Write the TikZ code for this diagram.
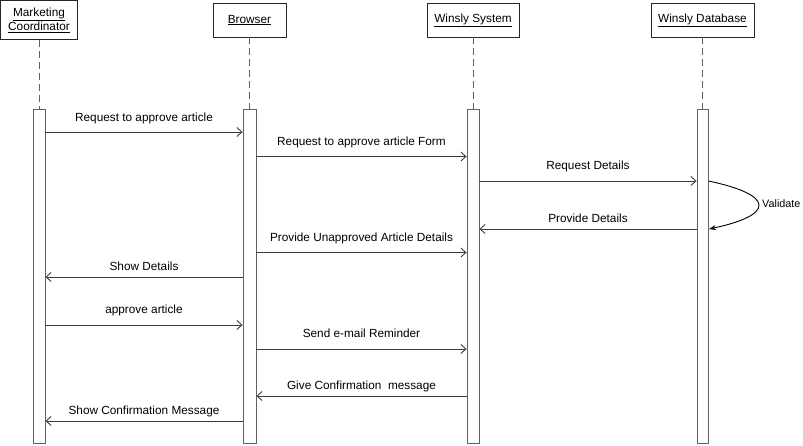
\documentclass[tikz,border=0pt]{standalone}
\usepackage{fontspec}
\setmainfont{Liberation Sans}
\usetikzlibrary{arrows.meta,calc}
\definecolor{ln}{HTML}{3A3A3A}
\tikzset{
  hdr/.style={draw=black!85,line width=0.8pt,fill=white,inner sep=0pt,align=center,font=\fontsize{11.8}{14}\selectfont},
  bar/.style={draw=ln!80,line width=0.9pt,fill=white,minimum height=334pt,inner sep=0pt},
  life/.style={draw=ln!80,line width=0.9pt,dash pattern=on 7pt off 4pt},
  msg/.style={draw=ln,line width=0.9pt,-{Straight Barb[length=5pt,width=9pt]}},
  lbl/.style={font=\fontsize{11.8}{14}\selectfont,anchor=base,inner sep=0pt},
}
\begin{document}
\begin{tikzpicture}[x=1pt,y=-1pt]
\useasboundingbox (0,0) rectangle (803,445);
% headers
\node[hdr,minimum width=77pt,minimum height=39pt] (mc) at (39,20) {\underline{Marketing}\\\underline{Coordinator}};
\node[hdr,minimum width=73pt,minimum height=34pt] (br) at (249.5,20) {\underline{Browser}};
\node[hdr,minimum width=92pt,minimum height=34pt] (ws) at (473,20) {\underline{Winsly System}};
\node[hdr,minimum width=103pt,minimum height=34pt] (wd) at (702.5,20) {\underline{Winsly Database}};
% activation bars
\node[bar,minimum width=12pt] (mcA) at (39,276) {};
\node[bar,minimum width=13pt] (brA) at (249.5,276) {};
\node[bar,minimum width=12pt] (wsA) at (473,276) {};
\node[bar,minimum width=11pt] (wdA) at (702.5,276) {};
% lifelines
\draw[life] (mc.south) -- (mcA.north);
\draw[life] (br.south) -- (brA.north);
\draw[life] (ws.south) -- (wsA.north);
\draw[life] (wd.south) -- (wdA.north);
% message levels
\coordinate (y1) at (0,132);
\coordinate (y2) at (0,156.5);
\coordinate (y3) at (0,181);
\coordinate (y4) at (0,229);
\coordinate (y5) at (0,252.5);
\coordinate (y6) at (0,277);
\coordinate (y7) at (0,325);
\coordinate (y8) at (0,349);
\coordinate (y9) at (0,396);
\coordinate (y10) at (0,421);
% messages
\draw[msg] (mcA.east |- y1) -- node[lbl,yshift=10.5pt]{Request to approve article} (brA.west |- y1);
\draw[msg] (brA.east |- y2) -- node[lbl,yshift=11.5pt]{Request to approve article Form} (wsA.west |- y2);
\draw[msg] (wsA.east |- y3) -- node[lbl,yshift=11.5pt]{Request Details} (wdA.west |- y3);
\draw[msg] (wdA.west |- y4) -- node[lbl,yshift=6.5pt]{Provide Details} (wsA.east |- y4);
\draw[msg] (brA.east |- y5) -- node[lbl,yshift=11pt]{Provide Unapproved Article Details} (wsA.west |- y5);
\draw[msg] (brA.west |- y6) -- node[lbl,yshift=7pt]{Show Details} (mcA.east |- y6);
\draw[msg] (mcA.east |- y7) -- node[lbl,yshift=12pt]{approve article} (brA.west |- y7);
\draw[msg] (brA.east |- y8) -- node[lbl,yshift=12pt]{Send e-mail Reminder} (wsA.west |- y8);
\draw[msg] (wsA.west |- y9) -- node[lbl,yshift=6.5pt]{Give Confirmation\ \ message} (brA.east |- y9);
\draw[msg] (brA.west |- y10) -- node[lbl,yshift=6.5pt]{Show Confirmation Message} (mcA.east |- y10);
% self loop
\coordinate (vs) at (wdA.east |- y3);
\coordinate (ve) at ($(wdA.east |- y4)+(0.5,0)$);
\draw[draw=black,line width=0.9pt,-{Stealth[length=7pt,width=5pt]}] (vs) .. controls (775,195) and (775,215) .. (ve);
\node[lbl,anchor=west,font=\fontsize{10.8}{13}\selectfont] (val) at (762,204) {Validate};
\end{tikzpicture}
\end{document}
